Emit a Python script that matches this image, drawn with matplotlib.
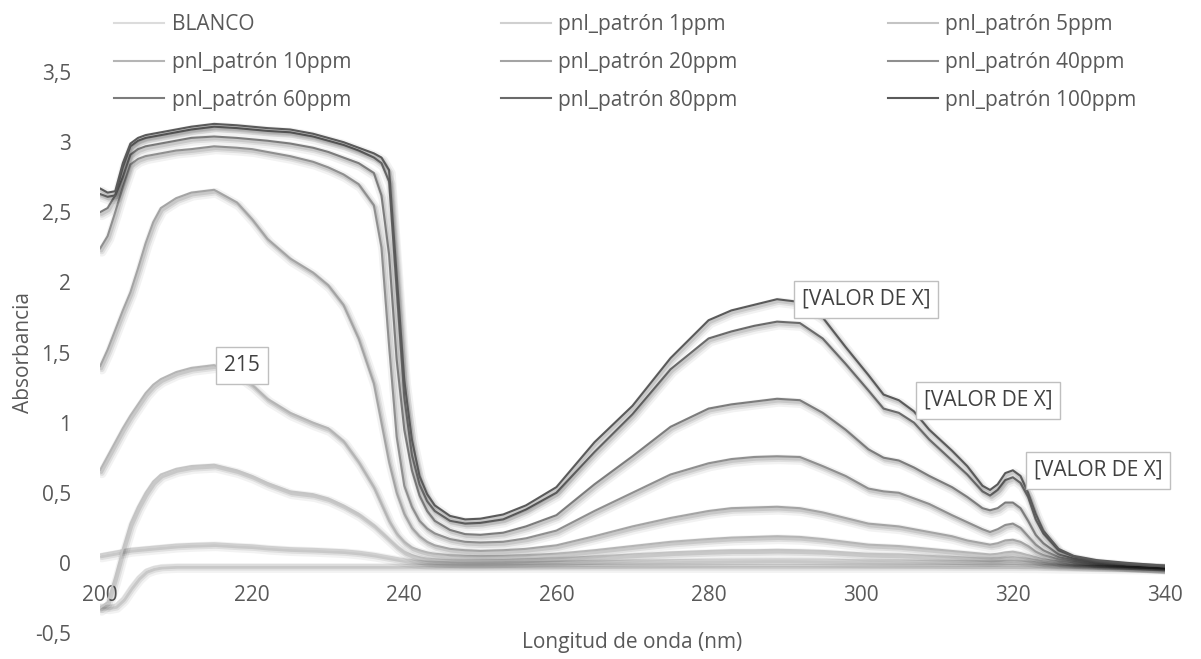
import matplotlib
matplotlib.use("Agg")
import matplotlib.pyplot as plt
import matplotlib.patheffects as pe
from matplotlib.lines import Line2D

plt.rcParams['font.family'] = ['Open Sans', 'DejaVu Sans']
plt.rcParams['font.size'] = 15

# wavelength grid (nm)
wl = [200, 201, 202, 203, 204, 205, 206, 207, 208, 210,
      212, 215, 218, 220, 222, 225, 228, 230, 232, 234,
      236, 237, 238, 239, 240, 241, 242, 243, 244, 246,
      248, 250, 253, 256, 260, 265, 270, 275, 280, 283,
      286, 289, 292, 295, 298, 301, 303, 305, 307, 309,
      312, 314, 316, 317, 318, 319, 320, 321, 322, 323,
      324, 326, 328, 331, 335, 340]

blanco = [-0.30, -0.31, -0.30, -0.25, -0.17, -0.10, -0.05, -0.03, -0.02, -0.015,
          -0.015, -0.015, -0.015, -0.015, -0.015, -0.015, -0.015, -0.015, -0.015, -0.015,
          -0.015, -0.015, -0.015, -0.015, -0.015, -0.015, -0.015, -0.015, -0.015, -0.015,
          -0.015, -0.015, -0.015, -0.015, -0.015, -0.015, -0.015, -0.015, -0.015, -0.015,
          -0.015, -0.015, -0.015, -0.015, -0.015, -0.015, -0.015, -0.015, -0.015, -0.015,
          -0.016, -0.016, -0.016, -0.016, -0.016, -0.016, -0.016, -0.017, -0.017, -0.017,
          -0.018, -0.02, -0.02, -0.022, -0.025, -0.028]

p1 = [0.06, 0.07, 0.08, 0.09, 0.10, 0.105, 0.11, 0.115, 0.12, 0.13,
      0.135, 0.14, 0.13, 0.125, 0.115, 0.105, 0.10, 0.095, 0.09, 0.08,
      0.065, 0.055, 0.045, 0.035, 0.025, 0.018, 0.012, 0.008, 0.005, 0.003,
      0.002, 0.002, 0.003, 0.005, 0.008, 0.012, 0.016, 0.019, 0.022, 0.024,
      0.025, 0.026, 0.025, 0.023, 0.02, 0.018, 0.017, 0.016, 0.015, 0.014,
      0.012, 0.011, 0.01, 0.01, 0.011, 0.012, 0.012, 0.01, 0.008, 0.005,
      0.002, -0.003, -0.006, -0.01, -0.015, -0.02]

p5 = [-0.32, -0.28, -0.10, 0.10, 0.28, 0.40, 0.50, 0.58, 0.63, 0.67,
      0.69, 0.70, 0.66, 0.62, 0.57, 0.51, 0.49, 0.46, 0.41, 0.35,
      0.27, 0.22, 0.17, 0.12, 0.08, 0.055, 0.04, 0.03, 0.025, 0.02,
      0.018, 0.018, 0.02, 0.025, 0.032, 0.045, 0.06, 0.075, 0.085, 0.09,
      0.09, 0.093, 0.09, 0.085, 0.075, 0.065, 0.062, 0.06, 0.055, 0.05,
      0.042, 0.037, 0.032, 0.03, 0.032, 0.038, 0.04, 0.035, 0.028, 0.02,
      0.012, 0.003, -0.003, -0.008, -0.012, -0.02]

p10 = [0.66, 0.76, 0.86, 0.96, 1.05, 1.13, 1.21, 1.27, 1.31, 1.36,
       1.39, 1.41, 1.35, 1.27, 1.17, 1.07, 1.00, 0.96, 0.87, 0.72,
       0.54, 0.42, 0.30, 0.21, 0.15, 0.11, 0.09, 0.075, 0.065, 0.055,
       0.05, 0.048, 0.05, 0.055, 0.065, 0.09, 0.12, 0.15, 0.17, 0.18,
       0.185, 0.19, 0.185, 0.17, 0.15, 0.13, 0.125, 0.12, 0.11, 0.10,
       0.085, 0.075, 0.065, 0.06, 0.065, 0.075, 0.08, 0.07, 0.055, 0.04,
       0.025, 0.01, 0.0, -0.005, -0.01, -0.02]

p20 = [1.40, 1.52, 1.66, 1.80, 1.93, 2.10, 2.28, 2.43, 2.53, 2.60,
       2.64, 2.66, 2.57, 2.45, 2.31, 2.17, 2.07, 1.98, 1.84, 1.60,
       1.28, 1.00, 0.72, 0.50, 0.35, 0.25, 0.19, 0.15, 0.125, 0.10,
       0.09, 0.085, 0.09, 0.10, 0.125, 0.19, 0.26, 0.32, 0.37, 0.39,
       0.395, 0.40, 0.39, 0.36, 0.32, 0.28, 0.27, 0.26, 0.24, 0.22,
       0.19, 0.16, 0.14, 0.13, 0.14, 0.16, 0.165, 0.15, 0.12, 0.08,
       0.055, 0.025, 0.01, 0.0, -0.01, -0.02]

p40 = [2.24, 2.33, 2.50, 2.68, 2.84, 2.88, 2.90, 2.91, 2.92, 2.94,
       2.95, 2.97, 2.96, 2.95, 2.93, 2.90, 2.86, 2.82, 2.77, 2.70,
       2.55, 2.25, 1.55, 0.90, 0.55, 0.40, 0.30, 0.245, 0.21, 0.17,
       0.15, 0.145, 0.15, 0.175, 0.23, 0.37, 0.50, 0.63, 0.71, 0.74,
       0.755, 0.76, 0.755, 0.69, 0.62, 0.53, 0.51, 0.50, 0.46, 0.42,
       0.34, 0.29, 0.24, 0.22, 0.24, 0.27, 0.28, 0.25, 0.19, 0.13,
       0.09, 0.04, 0.02, 0.005, -0.01, -0.025]

p60 = [2.50, 2.53, 2.62, 2.75, 2.91, 2.95, 2.97, 2.98, 2.99, 3.01,
       3.03, 3.04, 3.03, 3.02, 3.01, 2.99, 2.96, 2.93, 2.89, 2.85,
       2.78, 2.62, 2.20, 1.45, 0.95, 0.66, 0.48, 0.37, 0.30, 0.235,
       0.205, 0.20, 0.215, 0.26, 0.34, 0.56, 0.76, 0.97, 1.10, 1.13,
       1.15, 1.17, 1.16, 1.07, 0.95, 0.81, 0.75, 0.73, 0.68, 0.62,
       0.54, 0.47, 0.39, 0.375, 0.39, 0.43, 0.43, 0.39, 0.30, 0.20,
       0.14, 0.06, 0.03, 0.01, -0.01, -0.025]

p80 = [2.63, 2.61, 2.62, 2.82, 2.97, 3.01, 3.03, 3.04, 3.05, 3.07,
       3.09, 3.11, 3.10, 3.09, 3.08, 3.07, 3.04, 3.01, 2.98, 2.94,
       2.89, 2.85, 2.72, 1.95, 1.18, 0.77, 0.56, 0.44, 0.37, 0.30,
       0.28, 0.285, 0.31, 0.38, 0.50, 0.79, 1.06, 1.38, 1.60, 1.65,
       1.69, 1.72, 1.71, 1.60, 1.42, 1.23, 1.10, 1.07, 1.00, 0.88,
       0.73, 0.63, 0.51, 0.48, 0.52, 0.59, 0.61, 0.57, 0.47, 0.31,
       0.21, 0.09, 0.045, 0.015, -0.005, -0.025]

p100 = [2.67, 2.64, 2.65, 2.85, 2.99, 3.03, 3.05, 3.06, 3.07, 3.09,
        3.11, 3.13, 3.12, 3.11, 3.10, 3.09, 3.06, 3.03, 3.00, 2.96,
        2.92, 2.89, 2.80, 2.05, 1.30, 0.88, 0.62, 0.49, 0.41, 0.335,
        0.31, 0.315, 0.345, 0.41, 0.54, 0.86, 1.12, 1.46, 1.73, 1.80,
        1.84, 1.88, 1.86, 1.75, 1.54, 1.34, 1.20, 1.16, 1.08, 0.95,
        0.80, 0.69, 0.55, 0.52, 0.56, 0.64, 0.66, 0.62, 0.50, 0.35,
        0.23, 0.10, 0.05, 0.02, 0.0, -0.02]

names = ["BLANCO", "pnl_patrón 1ppm", "pnl_patrón 5ppm", "pnl_patrón 10ppm",
         "pnl_patrón 20ppm", "pnl_patrón 40ppm", "pnl_patrón 60ppm",
         "pnl_patrón 80ppm", "pnl_patrón 100ppm"]
series = [blanco, p1, p5, p10, p20, p40, p60, p80, p100]
colors = ['#dcdcdc', '#d0d0d0', '#c4c4c4', '#b5b5b5', '#a4a4a4',
          '#8f8f8f', '#7c7c7c', '#6a6a6a', '#5a5a5a']

# data labels: (series index, wavelength, text)
labels = [(3, 215, "215"), (8, 289, "[VALOR DE X]"),
          (8, 305, "[VALOR DE X]"), (8, 320, "[VALOR DE X]")]
label_offsets = [7, 18, 18, 15]

xticks = [200, 220, 240, 260, 280, 300, 320, 340]
yticks = [-0.5, 0, 0.5, 1, 1.5, 2, 2.5, 3, 3.5]
ytick_labels = ["-0,5", "0", "0,5", "1", "1,5", "2", "2,5", "3", "3,5"]

txt = '#595959'

fig = plt.figure(figsize=(12.01, 6.59), dpi=100)
ax = fig.add_axes([100 / 1201, 26 / 659, 1065 / 1201, 561 / 659])

shadow = [pe.SimpleLineShadow(offset=(1.3, -2.2), shadow_color='black', alpha=0.05, linewidth=7),
          pe.SimpleLineShadow(offset=(1.3, -2.0), shadow_color='black', alpha=0.08, linewidth=4),
          pe.SimpleLineShadow(offset=(1.0, -1.6), shadow_color='black', alpha=0.10, linewidth=2.2),
          pe.Normal()]

for s, c in zip(series, colors):
    ax.plot(wl, s, color=c, lw=1.5, path_effects=shadow, solid_capstyle='round')

for (i, w, t), off in zip(labels, label_offsets):
    y = series[i][wl.index(w)]
    ax.annotate(t, xy=(w, y), xytext=(off, 0), textcoords='offset points',
                ha='left', va='center', color='#404040', fontsize=15,
                bbox=dict(boxstyle='square,pad=0.38', fc='white', ec='#bfbfbf', lw=1.0),
                zorder=10)

ax.set_xlim(200, 340)
ax.set_ylim(-0.5, 3.5)
ax.set_xticks(xticks)
ax.set_yticks(yticks)
ax.set_yticklabels(ytick_labels)
for sp in ax.spines.values():
    sp.set_visible(False)
ax.spines['bottom'].set_position(('data', 0))
ax.tick_params(axis='both', length=0, colors=txt, labelsize=15)
ax.tick_params(axis='y', pad=21)
ax.tick_params(axis='x', pad=16)

ax.set_xlabel("Longitud de onda (nm)", color=txt, fontsize=15)
ax.xaxis.set_label_coords(0.5, 0.002)
ax.set_ylabel("Absorbancia", color=txt, fontsize=15)
ax.yaxis.set_label_coords(-0.062, 0.5)

handles = [Line2D([], [], color=c, lw=1.5) for c in colors]
order = [0, 3, 6, 1, 4, 7, 2, 5, 8]
leg = ax.legend([handles[k] for k in order], [names[k] for k in order],
                ncol=3, loc='upper left', bbox_to_anchor=(104 / 1201, 1 - 4 / 659),
                bbox_transform=fig.transFigure, frameon=False, borderpad=0,
                handlelength=2.4, handletextpad=0.35, columnspacing=7.2,
                labelspacing=0.8, fontsize=15)
for t in leg.get_texts():
    t.set_color(txt)

fig.savefig("out.png", dpi=100)
